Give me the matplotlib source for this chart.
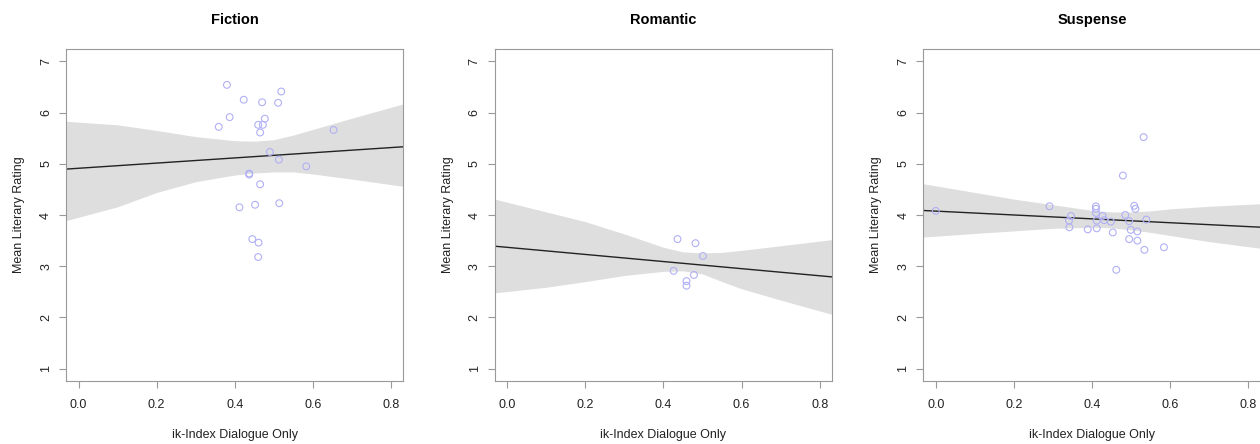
import numpy as np
import matplotlib.pyplot as plt

plt.rcParams['font.family'] = ['Liberation Sans', 'DejaVu Sans']

genres = ['Fiction', 'Romantic', 'Suspense']

# scatter points
fiction_x = [0.380, 0.519, 0.423, 0.470, 0.511, 0.387, 0.477, 0.359, 0.460, 0.472,
             0.465, 0.653, 0.490, 0.513, 0.583, 0.437, 0.437, 0.465, 0.514, 0.452,
             0.412, 0.445, 0.461, 0.460]
fiction_y = [6.54, 6.41, 6.25, 6.20, 6.19, 5.91, 5.88, 5.72, 5.76, 5.76,
             5.61, 5.66, 5.23, 5.08, 4.95, 4.81, 4.79, 4.60, 4.23, 4.20,
             4.15, 3.53, 3.46, 3.18]

romantic_x = [0.436, 0.482, 0.501, 0.426, 0.478, 0.459, 0.459]
romantic_y = [3.53, 3.45, 3.20, 2.91, 2.83, 2.71, 2.62]

suspense_x = [0.000, 0.291, 0.532, 0.479, 0.410, 0.410, 0.410, 0.508, 0.511, 0.346,
              0.341, 0.342, 0.389, 0.412, 0.412, 0.427, 0.431, 0.448, 0.485, 0.495,
              0.539, 0.453, 0.499, 0.516, 0.495, 0.516, 0.534, 0.584, 0.462]
suspense_y = [4.08, 4.17, 5.52, 4.77, 4.17, 4.12, 4.04, 4.18, 4.12, 3.98,
              3.89, 3.76, 3.72, 3.89, 3.74, 3.98, 3.90, 3.87, 4.00, 3.88,
              3.91, 3.66, 3.71, 3.68, 3.53, 3.50, 3.32, 3.37, 2.93]

# fitted lines (intercept, slope)
fit_intercept = [4.912, 3.369, 4.076]
fit_slope = [0.505, -0.694, -0.378]

# confidence band edges read at these x positions
band_x = [-0.032, 0.1, 0.2, 0.3, 0.4, 0.45, 0.5, 0.55, 0.6, 0.7, 0.832]
fiction_upper = [5.83, 5.76, 5.65, 5.53, 5.45, 5.44, 5.47, 5.56, 5.67, 5.89, 6.17]
fiction_lower = [3.89, 4.16, 4.44, 4.65, 4.78, 4.82, 4.84, 4.84, 4.80, 4.70, 4.56]
romantic_upper = [4.31, 4.06, 3.87, 3.63, 3.37, 3.28, 3.26, 3.27, 3.31, 3.40, 3.52]
romantic_lower = [2.48, 2.59, 2.70, 2.82, 2.90, 2.91, 2.85, 2.70, 2.56, 2.34, 2.06]
suspense_upper = [4.61, 4.44, 4.31, 4.20, 4.09, 4.06, 4.06, 4.08, 4.12, 4.17, 4.22]
suspense_lower = [3.57, 3.64, 3.69, 3.74, 3.76, 3.75, 3.71, 3.66, 3.60, 3.48, 3.35]

xs = [fiction_x, romantic_x, suspense_x]
ys = [fiction_y, romantic_y, suspense_y]
uppers = [fiction_upper, romantic_upper, suspense_upper]
lowers = [fiction_lower, romantic_lower, suspense_lower]

x_ticks = [0.0, 0.2, 0.4, 0.6, 0.8]
y_ticks = [1, 2, 3, 4, 5, 6, 7]

W, H = 1260, 444
fig = plt.figure(figsize=(W / 100, H / 100), dpi=100)

lefts = [66, 494.7, 923.3]
axw, top, bottom = 337.5, 49, 381
box_col = '#999999'

for i, g in enumerate(genres):
    ax = fig.add_axes([lefts[i] / W, (H - bottom) / H, axw / W, (bottom - top) / H])
    xlim = (-0.032, 0.832)
    ax.set_xlim(*xlim)
    ax.set_ylim(0.76, 7.24)

    ax.fill_between(band_x, lowers[i], uppers[i], color='#dedede', lw=0, zorder=1)
    lx = np.array(xlim)
    ax.plot(lx, fit_intercept[i] + fit_slope[i] * lx, color='#222222', lw=1.0, zorder=2)
    ax.scatter(xs[i], ys[i], s=24, facecolors='none', edgecolors='#b0b0f5',
               linewidths=0.8, zorder=3)

    ax.set_xticks(x_ticks)
    ax.set_xticklabels(['%.1f' % v for v in x_ticks])
    ax.set_yticks(y_ticks)
    ax.tick_params(axis='both', direction='out', length=5, width=0.8, color=box_col,
                   labelsize=9, labelcolor='#222222')
    ax.tick_params(axis='x', pad=8)
    ax.tick_params(axis='y', labelrotation=90, pad=5)
    for lab in ax.get_yticklabels():
        lab.set_va('center')
    for s in ax.spines.values():
        s.set_color(box_col)
        s.set_linewidth(0.8)

    ax.set_title(g, fontsize=10.5, fontweight='bold', pad=18)
    ax.set_xlabel('ik-Index Dialogue Only', fontsize=9, color='#222222', labelpad=13)
    ax.set_ylabel('Mean Literary Rating', fontsize=9, color='#222222', labelpad=11)

fig.savefig('out.png', dpi=100)
